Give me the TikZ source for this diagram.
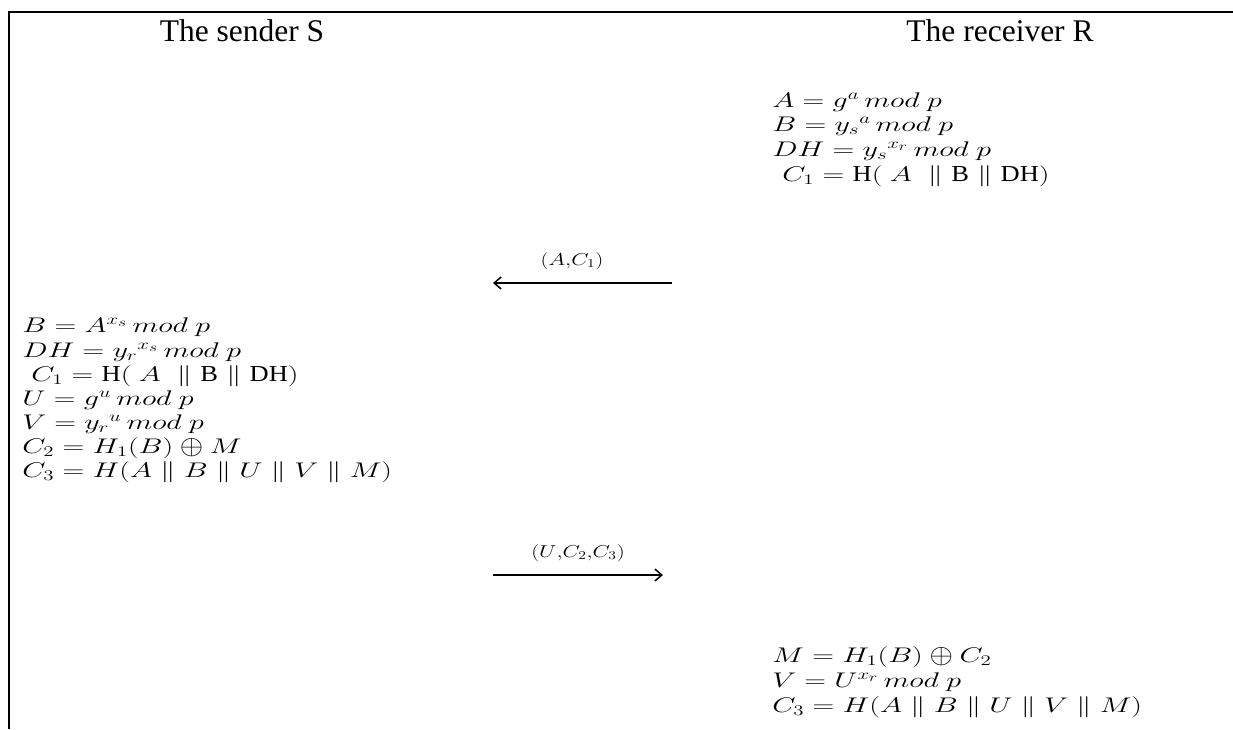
\documentclass[tikz,border=0pt]{standalone}
\usepackage{fontspec}
\setmainfont{Liberation Serif}
\usetikzlibrary{arrows.meta}
\newcommand{\xorop}{\mathbin{\vcenter{\hbox{\scalebox{1}[1.3]{$\oplus$}}}}}
\newcommand{\up}[1]{\mbox{\scalebox{0.88}[1.08]{#1}}}
\tikzset{
  head/.style={anchor=base, inner sep=0pt, font=\fontsize{31.5}{31.5}\selectfont},
  eq/.style={anchor=base west, inner sep=0pt, xscale=1.45, yscale=1.02, transform shape, font=\fontsize{20.74}{20.74}\selectfont},
  lbl/.style={anchor=base, inner sep=0pt, xscale=1.3, transform shape, font=\fontsize{17.28}{17.28}\selectfont},
  msg/.style={line width=2.2pt, -{Straight Barb[length=7pt,width=12pt,line width=1.5pt]}},
  frame/.style={line width=2.4pt}
}
\begin{document}
\begin{tikzpicture}[x=1pt,y=-1pt]
\useasboundingbox (0,0) rectangle (1233,729);
% frame
\coordinate (tl) at (9,12);
\coordinate (tr) at (1233,12);
\coordinate (bl) at (9,729);
\draw[frame] (tr) -- (tl) -- (bl);
% headers
\node[head] (hs) at (242,41) {The sender S};
\node[head] (hr) at (1000,41) {The receiver R};
% receiver block 1
\node[eq] (r1) at (772,107) {$A = g^{a}\,mod\ p$};
\node[eq] (r2) at (772,131) {$B = {y_{s}}^{a}\,mod\ p$};
\node[eq] (r3) at (772,156) {$DH = {y_{s}}^{x_{r}}\,mod\ p$};
\node[eq] (r4) at (782,181) {$C_{1} = \up{H}(\ A\ \parallel \up{B} \parallel \up{DH})$};
% message 1
\coordinate (m1s) at (672,283);
\coordinate (m1e) at (493,283);
\draw[msg] (m1s) -- (m1e);
\node[lbl] (l1) at (572,265) {$(A{,}C_{1})$};
% sender block
\node[eq] (s1) at (22,332) {$B = A^{x_{s}}\,mod\ p$};
\node[eq] (s2) at (22,357) {$DH = {y_{r}}^{x_{s}}\,mod\ p$};
\node[eq] (s3) at (31,381) {$C_{1} = \up{H}(\ A\ \parallel \up{B} \parallel \up{DH})$};
\node[eq] (s4) at (22,405) {$U = g^{u}\,mod\ p$};
\node[eq] (s5) at (22,429.5) {$V = {y_{r}}^{u}\,mod\ p$};
\node[eq] (s6) at (22,453) {$C_{2} = H_{1}(B) \xorop M$};
\node[eq] (s7) at (22,477) {$C_{3} = H(A \parallel B \parallel U \parallel V \parallel M)$};
% message 2
\coordinate (m2s) at (493,575);
\coordinate (m2e) at (663,575);
\draw[msg] (m2s) -- (m2e);
\node[lbl] (l2) at (578,557) {$(U{,}C_{2}{,}C_{3})$};
% receiver block 2
\node[eq] (t1) at (772,662) {$M = H_{1}(B) \xorop C_{2}$};
\node[eq] (t2) at (772,687) {$V = U^{x_{r}}\,mod\ p$};
\node[eq] (t3) at (772,712) {$C_{3} = H(A \parallel B \parallel U \parallel V \parallel M)$};
\end{tikzpicture}
\end{document}
